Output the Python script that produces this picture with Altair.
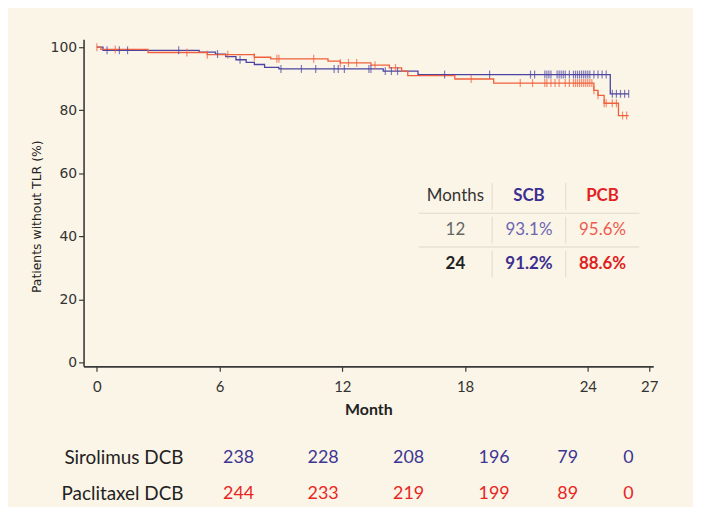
import altair as alt
import numpy as np
import pandas as pd

# ---------------- data ----------------
month_ticks = [0, 6, 12, 18, 24, 27]
pct_ticks = [0, 20, 40, 60, 80, 100]

scb_time = [0, 0.3, 5.0, 5.8, 6.3, 6.8, 7.3, 7.7, 8.2, 8.9, 14.0, 15.7, 25.1, 26.0]
scb_surv = [100, 99.0, 98.4, 97.8, 97.0, 96.0, 95.2, 94.5, 93.6, 93.1, 92.4, 91.3, 85.2, 85.2]

pcb_time = [0, 0.2, 2.5, 5.4, 7.7, 8.5, 11.3, 11.9, 13.4, 14.3, 14.9, 15.2, 17.5, 19.4,
            24.3, 24.5, 24.8, 25.5, 26.0]
pcb_surv = [100, 99.3, 98.3, 97.6, 96.8, 96.3, 95.6, 95.0, 94.3, 93.4, 92.4, 91.0, 89.9, 88.6,
            86.3, 84.7, 82.2, 78.3, 78.3]

scb_censor = [0.5, 1.1, 1.5, 4.0, 5.9, 7.0, 9.0, 10.0, 10.7, 11.6, 11.8, 12.1, 13.3, 13.4,
              14.1, 14.4, 14.7, 17.0, 19.2, 21.2, 21.4, 21.9, 22.0, 22.1, 22.2, 22.5, 22.6,
              22.7, 22.8, 22.9, 23.1, 23.3, 23.4, 23.5, 23.6, 23.7, 23.8, 23.9, 24.0, 24.1,
              24.3, 24.5, 24.7, 24.9, 25.2, 25.4, 25.6, 25.8, 26.0]
pcb_censor = [0.0, 0.9, 4.4, 5.4, 6.4, 7.7, 8.8, 8.9, 10.6, 11.9, 12.3, 12.7, 13.6, 14.6,
              18.3, 20.7, 21.3, 21.9, 22.0, 22.2, 22.4, 22.6, 22.9, 23.1, 23.3, 23.4, 23.5,
              23.6, 23.7, 23.8, 23.9, 24.0, 24.1, 24.2, 24.3, 24.5, 24.8, 24.9, 25.2, 25.4,
              25.7, 25.9]

inset_cols = ["Months", "SCB", "PCB"]
inset_rows = ["hdr", "12", "24"]
inset_hdr = ["Months", "SCB", "PCB"]
inset_12 = ["12", "93.1%", "95.6%"]
inset_24 = ["24", "91.2%", "88.6%"]

risk_groups = ["Sirolimus DCB", "Paclitaxel DCB"]
risk_months = [0, 6, 12, 18, 24, 27]
scb_risk = [238, 228, 208, 196, 79, 0]
pcb_risk = [244, 233, 219, 199, 89, 0]

# ---------------- styles ----------------
BLUE = "#4b44a3"
RED = "#f0603c"
BG = "#fbf5e7"
AX = "#3a3a3a"
FONT_AX = "DejaVu Sans"
FONT_TB = "Lato"


def surv_at(times, survs, t):
    i = int(np.searchsorted(times, t, side="right")) - 1
    return survs[max(i, 0)]


curve_df = pd.concat([
    pd.DataFrame({"month": scb_time, "surv": scb_surv, "group": "SCB"}),
    pd.DataFrame({"month": pcb_time, "surv": pcb_surv, "group": "PCB"}),
])
cens_df = pd.concat([
    pd.DataFrame({"month": scb_censor,
                  "surv": [surv_at(scb_time, scb_surv, t) for t in scb_censor], "group": "SCB"}),
    pd.DataFrame({"month": pcb_censor,
                  "surv": [surv_at(pcb_time, pcb_surv, t) for t in pcb_censor], "group": "PCB"}),
])

cells = []
for r, vals in zip(inset_rows, [inset_hdr, inset_12, inset_24]):
    for c, v in zip(inset_cols, vals):
        bold = (r == "24") or (r == "hdr" and c != "Months")
        cells.append({"row": r, "col": c, "text": v, "key": f"{r}-{c}", "bold": bold})
inset_df = pd.DataFrame(cells)
key_dom = list(inset_df["key"])
key_rng = ["#333333", "#3b2f8f", "#e31e24",
           "#666666", "#6b65b2", "#ee5a4f",
           "#222222", "#3b2f8f", "#e0201c"]
hline_df = pd.DataFrame({"row": inset_rows[:-1], "col": "SCB"})
vline_df = pd.DataFrame([{"row": r, "col": c} for r in inset_rows for c in inset_cols[1:]])

risk_df = pd.concat([
    pd.DataFrame({"month": risk_months, "n": scb_risk, "group": risk_groups[0]}),
    pd.DataFrame({"month": risk_months, "n": pcb_risk, "group": risk_groups[1]}),
])

# ---------------- KM plot ----------------
xs = alt.Scale(domain=[-0.65, 27.2], nice=False, zero=False)
ys = alt.Scale(domain=[-1.26, 102.5], nice=False, zero=False)
cs = alt.Scale(domain=["SCB", "PCB"], range=[BLUE, RED])

x_axis = alt.Axis(values=month_ticks, title="Month", titleFontWeight="bold",
                  labelFont=FONT_TB, labelFontSize=15, labelPadding=8,
                  titleFont=FONT_TB, titleFontSize=16, titlePadding=7)
y_axis = alt.Axis(values=pct_ticks, title="Patients without TLR (%)",
                  labelFontSize=14, titleFontSize=12.5,
                  titleFontWeight="normal", titlePadding=7, titleY=178)

lines = alt.Chart(curve_df).mark_line(interpolate="step-after", strokeWidth=1.3).encode(
    x=alt.X("month:Q", scale=xs, axis=x_axis),
    y=alt.Y("surv:Q", scale=ys, axis=y_axis),
    color=alt.Color("group:N", scale=cs, legend=None),
)
ticks = alt.Chart(cens_df).mark_tick(orient="vertical", size=8, thickness=1.2).encode(
    x=alt.X("month:Q", scale=xs, axis=x_axis),
    y=alt.Y("surv:Q", scale=ys, axis=y_axis),
    color=alt.Color("group:N", scale=cs, legend=None),
)
km = alt.layer(lines, ticks)

# ---------------- inset table ----------------
ixs = alt.Scale(type="band", domain=inset_cols, range=[337, 559], paddingInner=0, paddingOuter=0)
iys = alt.Scale(type="band", domain=inset_rows, range=[141, 243], paddingInner=0, paddingOuter=0)
kcs = alt.Scale(domain=key_dom, range=key_rng)


def inset_text(bold):
    return alt.Chart(inset_df).transform_filter(
        alt.datum.bold if bold else ~alt.datum.bold
    ).mark_text(font=FONT_TB, fontSize=17, fontWeight="bold" if bold else "normal").encode(
        x=alt.X("col:N", scale=ixs, axis=None, bandPosition=0.5),
        y=alt.Y("row:N", scale=iys, axis=None, bandPosition=0.5),
        text="text:N",
        color=alt.Color("key:N", scale=kcs, legend=None),
    )


hlines = alt.Chart(hline_df).mark_tick(orient="horizontal", size=222, thickness=1,
                                       color="#d6d0c4").encode(
    x=alt.X("col:N", scale=ixs, axis=None, bandPosition=0.5),
    y=alt.Y("row:N", scale=iys, axis=None, bandPosition=1),
)
vlines = alt.Chart(vline_df).mark_tick(orient="vertical", size=27, thickness=1,
                                       color="#d6d0c4").encode(
    x=alt.X("col:N", scale=ixs, axis=None, bandPosition=0),
    y=alt.Y("row:N", scale=iys, axis=None, bandPosition=0.5),
)
inset = alt.layer(hlines, vlines, inset_text(False), inset_text(True))

top = alt.layer(km, inset).resolve_scale(
    x="independent", y="independent", color="independent"
).properties(width=573, height=329)

# ---------------- number at risk ----------------
rxs = alt.Scale(domain=[0, 6, 12, 18, 24, 27], range=[156, 241, 327, 413, 487, 548])
rys = alt.Scale(type="point", domain=risk_groups, padding=0.25)
risk = alt.Chart(risk_df).mark_text(font=FONT_TB, fontSize=18).encode(
    x=alt.X("month:Q", scale=rxs, axis=None),
    y=alt.Y("group:N", scale=rys,
            axis=alt.Axis(title=None, domain=False, ticks=False, labelFont=FONT_TB,
                          labelFontSize=19, labelColor="#222222", labelPadding=2,
                          offset=-102)),
    text="n:Q",
    color=alt.Color("group:N", scale=alt.Scale(domain=risk_groups, range=["#3d3694", "#e8261f"]),
                    legend=None),
).properties(width=573, height=54)

chart = alt.vconcat(top, risk, spacing=32).properties(
    background=BG,
    padding={"left": 22, "top": 30, "right": 35, "bottom": 2},
).configure_view(stroke=None).configure_axis(
    labelFont=FONT_AX, labelFontSize=13, labelColor="#333333",
    titleFont=FONT_AX, titleFontSize=13, titleColor="#222222",
    domainColor=AX, domainWidth=1.6, tickColor=AX, tickSize=5, tickWidth=1.2,
    grid=False,
).configure_axisLeft(titleY=178)

chart.save("out.html", embed_options={"renderer": "svg", "actions": False})
